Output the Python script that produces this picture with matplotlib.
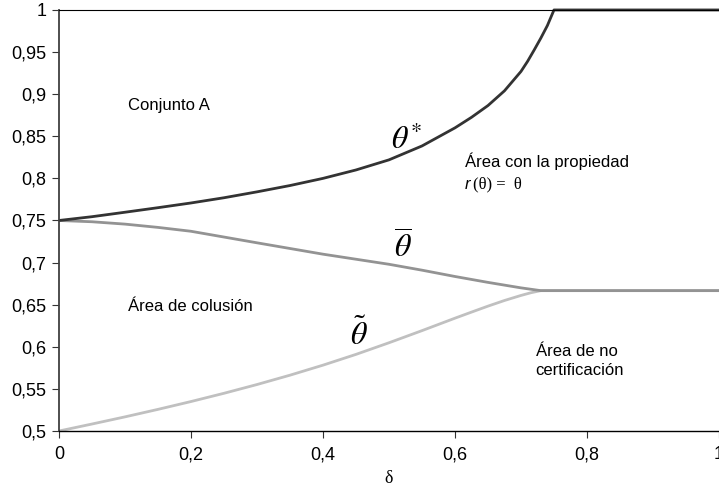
import matplotlib

matplotlib.use("Agg")
import matplotlib.pyplot as plt  # noqa: E402

plt.rcParams["font.family"] = ["Liberation Sans", "DejaVu Sans"]
plt.rcParams["mathtext.fontset"] = "stix"

# theta* : upper boundary (reaches 1 at delta = 0.75)
delta_star = [0.0, 0.05, 0.1, 0.15, 0.2, 0.25, 0.3, 0.35, 0.4, 0.45, 0.5,
              0.55, 0.6, 0.625, 0.65, 0.675, 0.7, 0.71, 0.72, 0.73, 0.74,
              0.75, 1.0]
theta_star = [0.75, 0.7545, 0.7598, 0.7652, 0.7708, 0.7770, 0.7840, 0.7915,
              0.8000, 0.8100, 0.8220, 0.8385, 0.8600, 0.8725, 0.8865, 0.9040,
              0.9270, 0.9390, 0.9525, 0.9665, 0.9815, 1.0, 1.0]

# theta bar : middle boundary
delta_bar = [0.0, 0.05, 0.1, 0.15, 0.2, 0.3, 0.4, 0.5, 0.55, 0.6, 0.65,
             0.7, 0.73, 1.0]
theta_bar = [0.75, 0.7485, 0.7457, 0.7418, 0.7372, 0.7235, 0.7100, 0.6980,
             0.6910, 0.6835, 0.6765, 0.6700, 0.6667, 0.6667]

# theta tilde : lower boundary
delta_tilde = [0.0, 0.05, 0.1, 0.15, 0.2, 0.25, 0.3, 0.35, 0.4, 0.45, 0.5,
               0.55, 0.6, 0.625, 0.65, 0.675, 0.7, 0.715, 0.73, 1.0]
theta_tilde = [0.5, 0.5083, 0.5168, 0.5257, 0.5350, 0.5448, 0.5552, 0.5663,
               0.5782, 0.5910, 0.6048, 0.6192, 0.6340, 0.6412, 0.6483, 0.6550,
               0.6610, 0.6642, 0.6667, 0.6667]

x_ticks = [0.0, 0.2, 0.4, 0.6, 0.8, 1.0]
x_tick_labels = ["0", "0,2", "0,4", "0,6", "0,8", "1"]
y_ticks = [0.5, 0.55, 0.6, 0.65, 0.7, 0.75, 0.8, 0.85, 0.9, 0.95, 1.0]
y_tick_labels = ["0,5", "0,55", "0,6", "0,65", "0,7", "0,75", "0,8", "0,85",
                 "0,9", "0,95", "1"]

fig = plt.figure(figsize=(7.19, 4.98), dpi=100)
axis = fig.add_axes([0.082, 0.1345, 0.918, 0.8455])

axis.plot(delta_tilde, theta_tilde, color="#c0c0c0", lw=2.0, solid_capstyle="butt")
axis.plot(delta_bar, theta_bar, color="#939393", lw=2.0, solid_capstyle="butt")
axis.plot(delta_star, theta_star, color="#333333", lw=2.0, solid_capstyle="butt",
          clip_on=False)

axis.set_xlim(0, 1)
axis.set_ylim(0.5, 1)
axis.set_xticks(x_ticks)
axis.set_xticklabels(x_tick_labels)
axis.set_yticks(y_ticks)
axis.set_yticklabels(y_tick_labels)
axis.tick_params(axis="both", direction="out", length=5, width=0.8,
                 labelsize=13, color="#333333")
axis.tick_params(axis="x", pad=6)
axis.tick_params(axis="y", pad=4)

axis.spines["right"].set_visible(False)
axis.spines["top"].set_linewidth(0.8)
axis.spines["left"].set_linewidth(1.3)
axis.spines["left"].set_color("#404040")
axis.spines["bottom"].set_linewidth(1.0)

axis.set_xlabel("δ", family="Liberation Serif", fontsize=13, labelpad=5)

# region labels
axis.text(0.104, 0.887, "Conjunto A", fontsize=12, va="center")
axis.text(0.104, 0.6476, "Área de colusión", fontsize=12, va="center")
axis.text(0.615, 0.8207, "Área con la propiedad", fontsize=12, va="center")
axis.text(0.615, 0.793, "r", fontsize=12, va="center", style="italic")
axis.annotate("(θ) =  θ", xy=(0.615, 0.793), xytext=(6, 0),
              textcoords="offset points", fontsize=12, va="center",
              family="Liberation Serif")
axis.text(0.722, 0.5835, "Área de no\ncertificación", fontsize=12,
          va="center", linespacing=1.3)

# curve labels
axis.text(0.527, 0.845, r"$\theta^{*}$", fontsize=23, ha="center", va="center")
axis.text(0.521, 0.717, r"$\overline{\theta}$", fontsize=23, ha="center", va="center")
axis.text(0.4545, 0.614, r"$\tilde{\theta}$", fontsize=23, ha="center", va="center")

fig.savefig("out.png", dpi=100)
plt.close(fig)
